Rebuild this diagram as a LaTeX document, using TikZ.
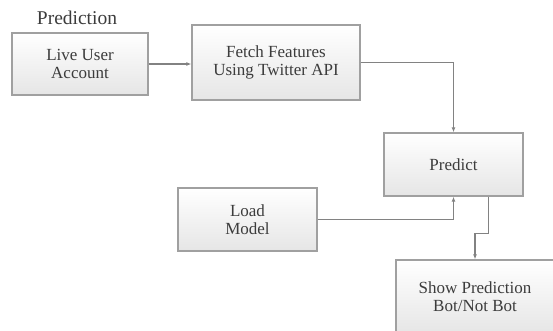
\documentclass[tikz,border=0pt]{standalone}
\usepackage{fontspec}
\setmainfont{Liberation Serif}
\usetikzlibrary{arrows.meta, positioning, calc}
\definecolor{boxgray}{RGB}{160, 160, 160}
\definecolor{linegray}{RGB}{130, 130, 130}
\definecolor{textgray}{RGB}{60, 60, 60}

\tikzset{
  stagebox/.style={draw=boxgray, line width=1.3pt, top color=white, bottom color=black!10,
    align=center, text=textgray, font=\fontsize{17}{18}\selectfont, inner sep=0pt},
  flow/.style={draw=linegray, line width=1.1pt, -{Latex[length=5pt, width=4pt]}}
}

\begin{document}
\begin{tikzpicture}[x=1pt, y=-1pt]
  \useasboundingbox (0,0) rectangle (553,330);
  \clip (0,0) rectangle (553,330);

  \node[stagebox, minimum width=136pt, minimum height=62pt] (live) at (80,64) {Live User\\Account};
  \node[font=\fontsize{19.5}{21}\selectfont, text=textgray] (title) at (77,18) {Prediction};
  \node[stagebox, minimum width=168pt, minimum height=75pt] (fetch) at (276,62.5) {Fetch Features\\Using Twitter API};
  \node[stagebox, minimum width=139pt, minimum height=63pt] (predict) at (453.5,164.5) {Predict};
  \node[stagebox, minimum width=139pt, minimum height=63pt] (load) at (247.5,219.5) {Load\\Model};
  \node[stagebox, minimum width=158pt, minimum height=74pt] (show) at (475,297) {Show Prediction\\Bot/Not Bot};

  \draw[flow] (live.east) -- (fetch.west |- live.east);
  \draw[flow] (fetch.east) -| (predict.north);
  \draw[flow] (load.east) -| (predict.south);
  \draw[flow] ([xshift=35pt]predict.south) -- ++(0,37) -| (show.north);
\end{tikzpicture}
\end{document}
